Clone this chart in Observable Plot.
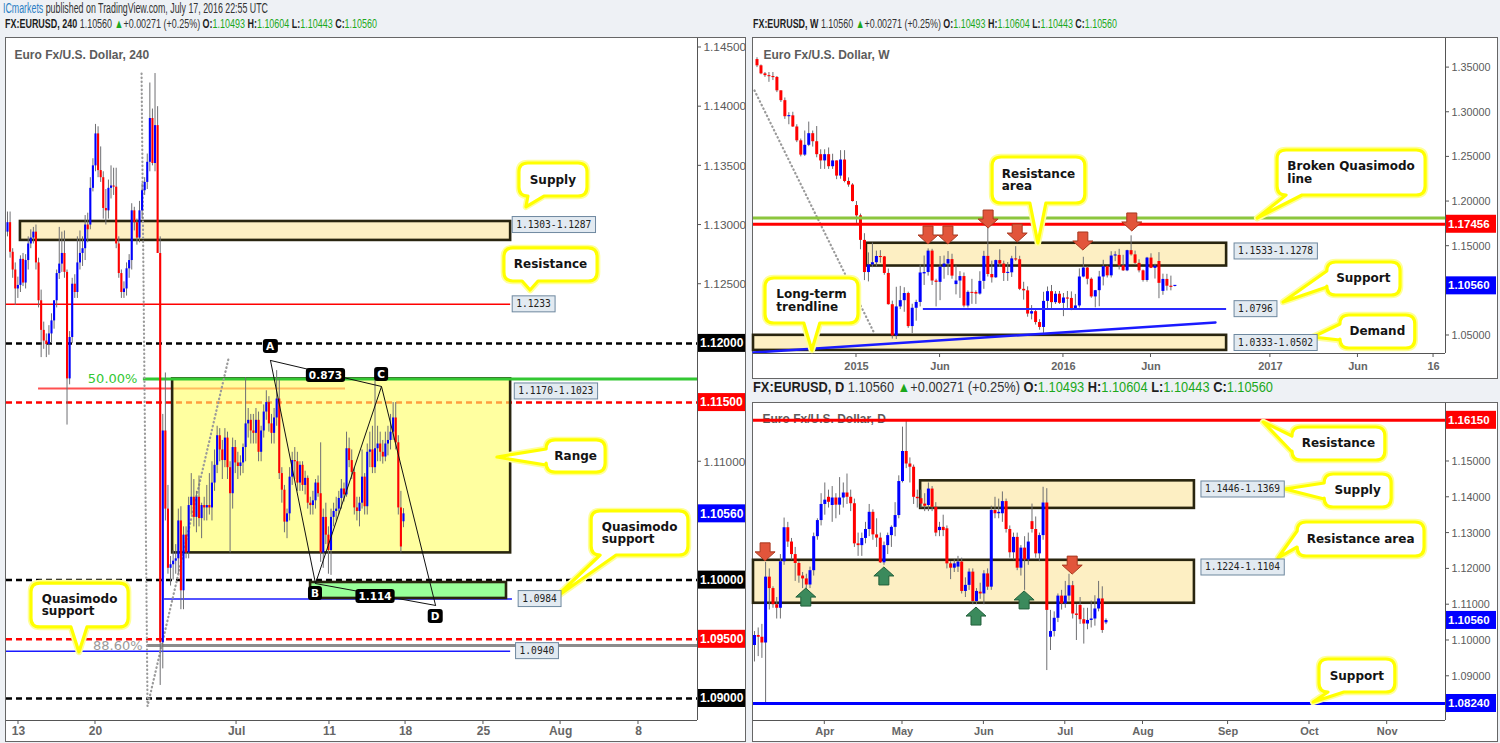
<!DOCTYPE html>
<html>
<head>
<meta charset="utf-8">
<script src="https://cdn.jsdelivr.net/npm/d3@7"></script>
<script src="https://cdn.jsdelivr.net/npm/@observablehq/plot@0.6"></script>
<style>
  html, body { margin:0; padding:0; width:1500px; height:743px; overflow:hidden; background:#eef1f5; }
  .hdr { position:absolute; white-space:nowrap; transform-origin:0 50%; line-height:1.2;
         font-family:"Liberation Sans Narrow","Liberation Sans",Arial,sans-serif; color:#333; }
  .hdr b { color:#1e1e1e; }
  .g { color:#1ca81c; }
  .panel { position:absolute; background:#fff; border:1px solid #666; box-sizing:border-box; }
  .panel svg { position:absolute; left:0; top:0; overflow:visible; }
</style>
</head>
<body>
<div id="pub" class="hdr"></div>
<div id="hdrH4" class="hdr"></div>
<div id="hdrW" class="hdr"></div>
<div id="hdrD" class="hdr"></div>
<div id="pH4" class="panel" style="left:5px;top:37px;width:741px;height:705px"></div>
<div id="pW" class="panel" style="left:752px;top:37px;width:746px;height:342px"></div>
<div id="pD" class="panel" style="left:752px;top:402px;width:746px;height:340px"></div>
<script>
// ===================== DATA (prices x 10 000: open, high, low, close) =====================
// 4-hour bars, Jun 10 – Jul 18 2016
const h4Bars = [
[11294,11311,11290,11302],[11302,11311,11272,11277],[11277,11280,11255,11262],[11262,11268,11232,11246],
[11246,11256,11238,11249],[11249,11274,11243,11271],[11271,11276,11248,11251],[11251,11275,11246,11270],
[11270,11290,11262,11284],[11284,11296,11280,11289],[11289,11298,11284,11294],[11294,11300,11262,11268],
[11268,11272,11230,11236],[11236,11245,11188,11211],[11211,11218,11195,11202],[11202,11208,11188,11199],
[11199,11215,11190,11208],[11208,11225,11200,11219],[11219,11236,11212,11236],[11236,11262,11230,11259],
[11259,11298,11254,11267],[11267,11294,11260,11276],[11276,11295,11255,11260],[11260,11262,11131,11170],
[11170,11210,11165,11205],[11205,11255,11200,11250],[11250,11258,11238,11243],[11243,11290,11238,11268],
[11268,11295,11262,11276],[11276,11290,11265,11280],[11280,11308,11270,11300],[11300,11310,11285,11296],
[11300,11340,11296,11331],[11331,11356,11328,11350],[11350,11385,11345,11377],[11377,11383,11340,11346],
[11346,11366,11336,11340],[11340,11345,11305,11314],[11314,11330,11300,11312],[11312,11338,11305,11331],
[11331,11350,11322,11333],[11333,11348,11325,11332],[11332,11348,11280,11284],[11284,11290,11255,11259],
[11259,11262,11238,11243],[11243,11252,11238,11246],[11246,11268,11240,11263],[11263,11275,11255,11270],
[11270,11318,11262,11312],[11312,11315,11295,11302],[11302,11305,11283,11289],[11289,11320,11285,11312],
[11312,11335,11305,11329],[11329,11340,11325,11336],[11336,11360,11330,11353],[11353,11420,11345,11390],
[11390,11398,11350,11352],[11352,11428,11345,11384],[11384,11400,11276,11276],[11276,11290,10911,10947],
[10947,11140,10925,11126],[11126,11175,11050,11060],[11060,11080,11005,11010],[11010,11020,10995,11013],
[11013,11025,11000,11016],[11016,11030,11005,11018],[11018,11060,11005,11050],[11050,11062,10975,10991],
[10991,11045,10975,11038],[11038,11045,11018,11023],[11023,11070,11018,11063],[11063,11090,11055,11070],
[11070,11085,11045,11053],[11053,11075,11040,11070],[11070,11088,11045,11052],[11052,11065,11035,11063],
[11063,11070,11050,11061],[11061,11080,11050,11063],[11063,11090,11055,11061],[11061,11100,11050,11082],
[11082,11110,11075,11097],[11097,11130,11090,11122],[11122,11128,11100,11110],[11110,11118,11085,11101],
[11101,11128,11095,11120],[11120,11125,11085,11095],[11095,11100,11023,11073],[11073,11120,11060,11112],
[11112,11118,11090,11099],[11099,11108,11085,11096],[11096,11105,11088,11099],[11099,11115,11090,11112],
[11112,11171,11100,11132],[11132,11145,11120,11135],[11135,11140,11115,11126],[11126,11140,11115,11124],
[11124,11145,11115,11135],[11135,11142,11100,11108],[11108,11130,11100,11126],[11126,11148,11120,11142],
[11142,11160,11135,11150],[11150,11155,11125,11132],[11132,11140,11115,11124],[11124,11145,11115,11137],
[11137,11177,11130,11153],[11153,11170,11085,11090],[11090,11095,11065,11076],[11076,11080,11040,11049],
[11049,11060,11035,11056],[11056,11095,11050,11087],[11087,11108,11080,11101],[11101,11112,11085,11100],
[11100,11108,11075,11082],[11082,11100,11075,11097],[11097,11100,11075,11080],[11080,11092,11072,11086],
[11086,11088,11060,11065],[11065,11070,11055,11063],[11063,11075,11055,11067],[11067,11085,11060,11082],
[11082,11088,11070,11073],[11073,11116,11015,11023],[11023,11060,11010,11053],[11053,11065,11030,11038],
[11038,11045,11005,11025],[11025,11060,11004,11053],[11053,11065,11045,11058],[11058,11070,11050,11060],
[11060,11075,11055,11069],[11069,11085,11060,11077],[11077,11082,11066,11072],[11072,11125,11070,11111],
[11111,11120,11095,11101],[11101,11110,11085,11091],[11091,11095,11055,11061],[11061,11070,11050,11058],
[11058,11070,11045,11065],[11065,11110,11060,11087],[11087,11090,11055,11062],[11062,11115,11055,11108],
[11108,11125,11095,11110],[11110,11130,11090,11095],[11095,11170,11090,11111],[11111,11130,11100,11115],
[11115,11125,11100,11108],[11108,11118,11098,11104],[11104,11125,11100,11115],[11115,11130,11105,11118],
[11118,11140,11110,11125],[11125,11150,11118,11137],[11137,11150,11110,11116],[11116,11122,11055,11061],
[11061,11075,11023,11028],[11049.3,11060.4,11044.3,11056]
];
// weekly bars, Jul 14 2014 – Jul 18 2016
const wBars = [
[13590,13610,13500,13520],[13520,13530,13420,13430],[13430,13445,13390,13410],[13410,13445,13335,13400],
[13400,13445,13355,13390],[13390,13400,13220,13240],[13240,13240,13110,13130],[13130,13160,12920,12950],
[12950,12995,12860,12960],[12960,13000,12830,12835],[12835,12860,12660,12680],[12680,12700,12500,12520],
[12520,12790,12505,12630],[12630,12890,12615,12760],[12760,12790,12610,12670],[12670,12840,12490,12525],
[12525,12580,12360,12455],[12455,12580,12360,12525],[12525,12600,12360,12390],[12390,12530,12360,12455],
[12455,12455,12245,12285],[12285,12570,12250,12465],[12465,12570,12210,12225],[12225,12265,12160,12185],
[12185,12200,11995,12000],[11955,12000,11755,11840],[11840,11860,11460,11565],[11565,11640,11115,11205],
[11205,11425,11100,11290],[11290,11535,11260,11315],[11315,11445,11270,11385],[11385,11450,11310,11380],
[11380,11385,11175,11195],[11195,11245,10840,10845],[10845,10885,10460,10495],[10495,11040,10455,10820],
[10820,11050,10790,10890],[10890,11035,10760,10970],[10970,10985,10580,10600],[10600,10850,10520,10805],
[10805,10895,10660,10870],[10870,11290,10820,11200],[11190,11390,11060,11205],[11205,11470,11165,11445],
[11445,11465,11060,11110],[11110,11130,10820,11095],[11095,11385,10890,11265],[11265,11390,11130,11300],
[11300,11440,11170,11350],[11350,11410,11130,11165],[11070,11280,10955,11110],[11110,11215,10915,11160],
[11160,11200,10810,10830],[10830,11000,10808,10983],[10983,11129,10849,10981],[10981,11000,10848,10964],
[10964,11214,10952,11106],[11106,11443,11017,11386],[11386,11714,11155,11183],[11183,11333,11087,11146],
[11146,11345,11140,11339],[11339,11460,11262,11300],[11300,11333,11105,11195],[11195,11317,11106,11202],
[11202,11387,11150,11358],[11358,11495,11330,11348],[11348,11387,11003,11017],[11017,11096,10896,11000],
[11000,11045,10705,10740],[10740,10835,10675,10767],[10767,10780,10617,10645],[10645,10677,10559,10590],
[10590,10984,10524,10882],[10882,11043,10796,10991],[10991,11060,10803,10868],[10868,10992,10848,10962],
[10962,10993,10848,10860],[10860,10970,10711,10920],[10920,10993,10804,10915],[10915,10988,10778,10795],
[10795,10960,10780,10831],[10831,11246,10808,11155],[11155,11376,11146,11256],[11256,11270,11067,11130],
[11130,11145,10917,10932],[10932,11005,10810,11002],[11002,11218,10822,11155],[11155,11342,11055,11270],
[11270,11277,11144,11168],[11168,11438,11144,11390],[11390,11438,11327,11397],[11397,11465,11234,11280],
[11280,11398,11217,11224],[11224,11455,11215,11450],[11450,11616,11389,11403],[11403,11445,11285,11308],
[11308,11348,11201,11224],[11224,11233,11098,11116],[11116,11375,11097,11367],[11367,11415,11249,11252],
[11252,11298,11132,11276],[11329,11428,10912,11084],[10994,11187,10950,11128],[11128,11185,10998,11052],
[11052,11165,11000,11039],[11049.3,11060.4,11044.3,11056]
];
// daily bars, Mar 7 – Jul 18 2016
const dBars = [
[10986,11025,10940,11014],[11014,11035,10955,11009],[11009,11045,10950,10993],[10993,11218,10822,11177],
[11177,11200,11085,11145],[11145,11150,11090,11100],[11100,11120,11060,11090],[11090,11240,11060,11220],
[11220,11342,11210,11315],[11315,11330,11260,11275],[11275,11285,11225,11240],[11240,11260,11165,11215],
[11215,11220,11160,11180],[11180,11190,11145,11172],[11172,11185,11140,11155],[11155,11205,11145,11195],
[11195,11300,11180,11290],[11290,11340,11280,11335],[11335,11410,11320,11380],[11380,11440,11350,11392],
[11400,11420,11370,11386],[11377,11430,11330,11398],[11398,11410,11340,11378],[11378,11455,11350,11398],
[11398,11440,11370,11412],[11412,11465,11380,11400],[11400,11420,11360,11382],[11382,11395,11260,11270],
[11270,11300,11235,11265],[11265,11300,11235,11285],[11285,11330,11270,11310],[11310,11380,11290,11358],
[11358,11365,11280,11295],[11295,11340,11260,11286],[11286,11300,11215,11217],[11217,11275,11210,11265],
[11265,11300,11240,11293],[11293,11320,11260,11316],[11316,11385,11290,11349],[11349,11460,11340,11444],
[11444,11596,11440,11528],[11528,11616,11480,11493],[11493,11510,11440,11484],[11484,11490,11380,11400],
[11400,11420,11370,11396],[11396,11420,11370,11381],[11381,11410,11360,11375],[11377,11440,11360,11423],
[11423,11430,11360,11372],[11372,11385,11290,11300],[11307,11330,11290,11316],[11316,11350,11290,11307],
[11312,11320,11200,11214],[11214,11220,11170,11202],[11202,11225,11190,11214],[11205,11235,11190,11219],
[11219,11230,11130,11137],[11137,11175,11120,11154],[11154,11200,11140,11191],[11191,11200,11100,11109],
[11109,11145,11100,11137],[11135,11160,11115,11130],[11130,11195,11100,11186],[11186,11200,11140,11149],
[11149,11375,11140,11363],[11363,11400,11340,11354],[11354,11395,11340,11358],[11354,11415,11330,11388],
[11388,11395,11300,11310],[11310,11320,11230,11245],[11245,11300,11225,11288],[11288,11300,11195,11202],
[11202,11265,11180,11258],[11258,11290,11140,11225],[11225,11300,11210,11275],[11332,11381,11300,11310],
[11310,11345,11230,11242],[11242,11300,11220,11293],[11293,11428,11280,11384],[11384,11424,10916,11084],
[11009,11084,10972,11025],[11025,11080,11010,11062],[11062,11130,11050,11124],[11124,11140,11085,11102],
[11102,11165,11090,11124],[11124,11185,11110,11153],[11153,11165,11060,11074],[11074,11100,11000,11070],
[11098,11120,11045,11058],[11058,11090,10990,11046],[11046,11090,11030,11056],[11056,11110,11035,11060],
[11060,11125,11040,11088],[11088,11165,11080,11116],[11116,11150,11020,11028],[11049.3,11060.4,11044.3,11056]
];

const quote = ["1.10560", "+0.00271 (+0.25%)", "1.10493", "1.10604", "1.10443", "1.10560"];

// axis ticks (x in bar index)
const h4XTicks = [4.25, 34.0, 88.5, 124.4, 153.8, 183.9, 213.7, 243.8];
const h4XLabels = ["13", "20", "Jul", "11", "18", "25", "Aug", "8"];
const h4YTicks = [1.145, 1.14, 1.135, 1.13, 1.125, 1.12, 1.115, 1.11, 1.105, 1.10, 1.095, 1.09];
const wXTicks = [25, 46, 77, 99, 129, 151, 170];
const wXLabels = ["2015", "Jun", "2016", "Jun", "2017", "Jun", "16"];
const wYTicks = [1.35, 1.30, 1.25, 1.20, 1.15, 1.10, 1.05];
const dXTicks = [19, 40, 62, 84, 105, 128, 150, 171];
const dXLabels = ["Apr", "May", "Jun", "Jul", "Aug", "Sep", "Oct", "Nov"];
const dYTicks = [1.16, 1.15, 1.14, 1.13, 1.12, 1.11, 1.10, 1.09, 1.08];

// ---- 4H drawings (price levels, zones, pattern) ----
const h4Rules = [
  {p: 1.1200, c: "#000000", w: 2.5, d: "6,4"},
  {p: 1.1150, c: "#ff0000", w: 2.5, d: "6,4"},
  {p: 1.1000, c: "#000000", w: 2.5, d: "6,4"},
  {p: 1.0950, c: "#ff0000", w: 2.5, d: "6,4"},
  {p: 1.0900, c: "#000000", w: 2.5, d: "6,4"},
  {p: 1.1233, b: 194.4, c: "#ff0000", w: 1.5},
  {p: 1.11619, a: 12.0, b: 130.6, c: "#ff5050", w: 2},
  {p: 1.0940, b: 194.4, c: "#1a1aff", w: 1.5},
  {p: 1.0984, a: 60.7, b: 195.1, c: "#1a1aff", w: 1.5},
  {p: 1.09448, a: 54.1, c: "#8c8c8c", w: 3}
];
const h4Zones = [
  {a: 5.0, b: 194.4, lo: 1.1287, hi: 1.1303, fill: "#fdefc3", op: 1},
  {a: 63.8, b: 194.4, lo: 1.1023, hi: 1.1170, fill: "#ffff66", op: 0.62},
  {a: 117.1, b: 192.8, lo: 1.09845, hi: 1.0998, fill: "#99ff99", op: 1}
];
const h4Fib50 = {p: 1.1170, a: 52.5};
const h4FibText = [{t: "50.00%", i: 50.2, p: 1.1170, c: "#33c833"}, {t: "88.60%", i: 52.2, p: 1.09448, c: "#9a9a9a"}];
const h4Dotted = [{i: 51.8, p: 1.1428}, {i: 54.1, p: 1.08935}, {i: 85.4, p: 1.11872}];
const h4Pattern = [
  {k: "A", i: 101.6, p: 1.11856, dy: -14}, {k: "B", i: 119.0, p: 1.09971, dy: 10},
  {k: "C", i: 144.5, p: 1.11636, dy: -12}, {k: "D", i: 165.4, p: 1.09786, dy: 11}
];
const h4Ratios = [{t: "0.873", from: 0, to: 2}, {t: "1.114", from: 1, to: 3}];
const h4Tags = [
  {t: "1.1303-1.1287", i: 195.2, p: 1.1300}, {t: "1.1233", i: 195.2, p: 1.1233},
  {t: "1.1170-1.1023", i: 196.0, p: 1.11594}, {t: "1.0984", i: 197.5, p: 1.0984},
  {t: "1.0940", i: 196.5, p: 1.0940}
];
const h4Callouts = [
  {lines: ["Supply"], box: [197.8, 1.13520, 224.1, 1.13241], tip: [200.5, 1.13150]},
  {lines: ["Resistance"], box: [192.0, 1.12802, 228.0, 1.12523], tip: [202.1, 1.12447]},
  {lines: ["Range"], box: [208.3, 1.11180, 231.1, 1.10909], tip: [189.3, 1.11036]},
  {lines: ["Quasimodo", "support"], box: [225.7, 1.10580, 263.1, 1.10208], tip: [211.7, 1.09845]},
  {lines: ["Quasimodo", "support"], box: [9.27, 1.09971, 46.8, 1.09600], tip: [27.8, 1.09389]}
];
const h4AxisTags = [
  {p: 1.12, bg: "#000"}, {p: 1.115, bg: "#ff0000"}, {p: 1.1056, bg: "#0000ff"},
  {p: 1.10, bg: "#000"}, {p: 1.095, bg: "#ff0000"}, {p: 1.09, bg: "#000"}
];

// ---- Weekly drawings ----
const wRules = [
  {p: 1.1815, c: "#8cc63e", w: 3},
  {p: 1.17456, c: "#ff0000", w: 3},
  {p: 1.0796, a: 41.8, b: 118.0, c: "#2a2aff", w: 2}
];
const wZones = [
  {a: 27.5, b: 118.0, lo: 1.1278, hi: 1.1533, fill: "#fdefc3", op: 1},
  {b: 118.0, lo: 1.0333, hi: 1.0502, fill: "#fdefc3", op: 1}
];
const wTrend = [{i: -0.879, p: 1.03096}, {i: 115.2, p: 1.06456}];
const wDotted = [{i: -0.63, p: 1.32436}, {i: 29.5, p: 1.05224}];
const wArrows = [
  {i: 43.1, p: 1.1519}, {i: 48.1, p: 1.1519}, {i: 58.2, p: 1.1698},
  {i: 65.5, p: 1.1541}, {i: 82.0, p: 1.1452}, {i: 94.3, p: 1.1665}
];
const wTags = [
  {t: "1.1533-1.1278", i: 120.0, p: 1.1441}, {t: "1.0796", i: 120.0, p: 1.0795},
  {t: "1.0333-1.0502", i: 120.0, p: 1.0416}
];
const wCallouts = [
  {lines: ["Resistance", "area"], box: [59.2, 1.24933, 82.5, 1.19782], tip: [70.7, 1.15302]},
  {lines: ["Broken Quasimodo", "line"], box: [130.8, 1.25717, 168.0, 1.20678], tip: [125.8, 1.18102]},
  {lines: ["Long-term", "trendline"], box: [2.14, 1.11383, 25.5, 1.06344], tip: [13.9, 1.03320]},
  {lines: ["Support"], box: [143.3, 1.13175, 161.7, 1.09479], tip: [132.3, 1.08695]},
  {lines: ["Demand"], box: [146.6, 1.07240, 165.4, 1.03544], tip: [139.8, 1.04776]}
];
const wAxisTags = [{p: 1.17456, bg: "#ff0000"}, {p: 1.1056, bg: "#0000ff"}];

// ---- Daily drawings ----
const dRules = [
  {p: 1.1615, c: "#ff0000", w: 3},
  {p: 1.0824, c: "#0000ff", w: 3}
];
const dZones = [
  {a: 44.9, b: 118.9, lo: 1.1369, hi: 1.1446, fill: "#fdefc3", op: 1},
  {b: 118.9, lo: 1.1104, hi: 1.1224, fill: "#fdefc3", op: 1}
];
const dDownArrows = [{i: 3.0, p: 1.1221}, {i: 86.0, p: 1.1184}];
const dUpArrows = [{i: 14.0, p: 1.1145}, {i: 35.1, p: 1.1204}, {i: 60.0, p: 1.1092}, {i: 73.0, p: 1.1137}];
const dTags = [{t: "1.1446-1.1369", i: 120.8, p: 1.14218}, {t: "1.1224-1.1104", i: 120.8, p: 1.12039}];
const dCallouts = [
  {lines: ["Resistance"], box: [145.4, 1.15950, 170.5, 1.15028], tip: [137.6, 1.16089]},
  {lines: ["Supply"], box: [154.1, 1.14637, 172.2, 1.13715], tip: [143.5, 1.14218]},
  {lines: ["Resistance area"], box: [146.8, 1.13296, 181.1, 1.12346], tip: [141.6, 1.12291]},
  {lines: ["Support"], box: [152.7, 1.09469, 173.2, 1.08547], tip: [151.1, 1.08268]}
];
const dAxisTags = [{p: 1.1615, bg: "#ff0000"}, {p: 1.1056, bg: "#0000ff"}, {p: 1.0824, bg: "#0000ff"}];

// ===================== HELPERS =====================
const toCandles = bars => bars.map((b, i) => ({i, o: b[0] / 1e4, h: b[1] / 1e4, l: b[2] / 1e4, c: b[3] / 1e4}));

function candleMarks(data, bw, eps) {
  const up = data.filter(d => d.c >= d.o), dn = data.filter(d => d.c < d.o);
  const y2 = d => Math.abs(d.c - d.o) < eps ? d.o + (d.c >= d.o ? eps : -eps) : d.c;
  return [
    Plot.ruleX(data, {x: "i", y1: "l", y2: "h", stroke: "#6f6f72", strokeWidth: 1}),
    Plot.ruleX(up, {x: "i", y1: "o", y2, stroke: "#0000ff", strokeWidth: bw}),
    Plot.ruleX(dn, {x: "i", y1: "o", y2, stroke: "#ff0000", strokeWidth: bw})
  ];
}
function ruleMarks(rules, xd) {
  return rules.map(r => Plot.ruleY([r], {
    y: "p", x1: d => d.a ?? xd[0], x2: d => d.b ?? xd[1],
    stroke: r.c, strokeWidth: r.w, strokeDasharray: r.d || null
  }));
}
function zoneMarks(zones, xd) {
  return zones.map(z => Plot.rect([z], {
    x1: d => d.a ?? xd[0], x2: d => d.b ?? xd[1], y1: "lo", y2: "hi",
    fill: z.fill, fillOpacity: z.op, stroke: "#29250f", strokeWidth: 2.6
  }));
}
// grey tick labels, skipping those hidden behind a coloured price tag
function axisTextMarks(cfg, tags, pxPerUnit) {
  const [x0, x1] = cfg.xDomain, [y0] = cfg.yDomain;
  const visible = cfg.yTicks.filter(v => tags.every(t => Math.abs(t.p - v) * pxPerUnit > 15));
  return [
    Plot.ruleX([x1], {stroke: "#555", strokeWidth: 1}),
    Plot.ruleY([y0], {stroke: "#555", strokeWidth: 1}),
    Plot.text(visible, {x: () => x1, y: d => d, text: d => d.toFixed(5), dx: 6, textAnchor: "start",
      fill: "#5a5a5a", fontSize: cfg.yFont}),
    Plot.text(cfg.xTicks, {x: d => d, y: () => y0, text: (d, i) => cfg.xLabels[i], dy: cfg.xDy,
      fill: "#666", fontSize: cfg.xFont, fontWeight: "bold"})
  ];
}
function titleMark(t, dx, dy) {
  return Plot.text([t], {frameAnchor: "top-left", text: d => d, dx, dy, textAnchor: "start", lineAnchor: "middle",
    fill: "#5c5c5c", fontSize: 12, fontWeight: "bold"});
}
function scaleFn(s) {
  return s.apply ? (v => s.apply(v)) : d3.scaleLinear(s.domain, s.range);
}

function makePlot(cfg, marks) {
  const host = document.getElementById(cfg.id);
  const W = host.clientWidth, H = host.clientHeight;
  const plot = Plot.plot({
    width: W, height: H,
    marginLeft: 0, marginTop: 0, marginRight: cfg.mR, marginBottom: cfg.mB,
    x: {type: "linear", domain: cfg.xDomain, axis: null},
    y: {type: "linear", domain: cfg.yDomain, axis: null},
    style: {background: "transparent", fontFamily: "'Liberation Sans', Arial, sans-serif", overflow: "visible"},
    marks
  });
  host.appendChild(plot);
  const sx = scaleFn(plot.scale("x")), sy = scaleFn(plot.scale("y"));
  const g = d3.select(plot).append("g").attr("text-anchor", "start");
  const xR = sx(cfg.xDomain[1]), yB = sy(cfg.yDomain[0]);
  cfg.yTicks.forEach(v => g.append("line").attr("x1", xR).attr("x2", xR + 4).attr("y1", sy(v)).attr("y2", sy(v)).attr("stroke", "#555"));
  cfg.xTicks.forEach(v => g.append("line").attr("x1", sx(v)).attr("x2", sx(v)).attr("y1", yB).attr("y2", yB + 4).attr("stroke", "#555"));
  return {plot, sx, sy, g, xR};
}

function drawCallout(g, sx, sy, c) {
  const X1 = sx(c.box[0]), X2 = sx(c.box[2]), Y1 = sy(c.box[1]), Y2 = sy(c.box[3]);
  const TX = sx(c.tip[0]), TY = sy(c.tip[1]);
  const r = 9, w = 8;
  const ox = TX < X1 ? X1 - TX : TX > X2 ? TX - X2 : 0;
  const oy = TY < Y1 ? Y1 - TY : TY > Y2 ? TY - Y2 : 0;
  const side = ox > oy ? (TX < X1 ? "left" : "right") : (TY < Y1 ? "top" : "bottom");
  const cl = (v, a, b) => Math.max(a, Math.min(b, v));
  const bx = cl(TX, X1 + r + w, X2 - r - w), by = cl(TY, Y1 + r + w, Y2 - r - w);
  let p = `M${X1 + r},${Y1}`;
  if (side === "top") p += `L${bx - w},${Y1}L${TX},${TY}L${bx + w},${Y1}`;
  p += `L${X2 - r},${Y1}Q${X2},${Y1} ${X2},${Y1 + r}`;
  if (side === "right") p += `L${X2},${by - w}L${TX},${TY}L${X2},${by + w}`;
  p += `L${X2},${Y2 - r}Q${X2},${Y2} ${X2 - r},${Y2}`;
  if (side === "bottom") p += `L${bx + w},${Y2}L${TX},${TY}L${bx - w},${Y2}`;
  p += `L${X1 + r},${Y2}Q${X1},${Y2} ${X1},${Y2 - r}`;
  if (side === "left") p += `L${X1},${by + w}L${TX},${TY}L${X1},${by - w}`;
  p += `L${X1},${Y1 + r}Q${X1},${Y1} ${X1 + r},${Y1}Z`;
  g.append("path").attr("d", p).attr("fill", "none").attr("stroke", "#ffff9a").attr("stroke-width", 6.5).attr("stroke-linejoin", "round");
  g.append("path").attr("d", p).attr("fill", "#fff").attr("stroke", "#ffff00").attr("stroke-width", 3.2).attr("stroke-linejoin", "round");
  const t = g.append("text").attr("text-anchor", "start").attr("font-family", "'DejaVu Sans', Verdana, sans-serif").attr("font-weight", "bold")
    .attr("font-size", 12).attr("fill", "#141414");
  c.lines.forEach((ln, i) => t.append("tspan").attr("x", 0).attr("dy", i === 0 ? 0 : 12.5).text(ln));
  const bb = t.node().getBBox();
  t.attr("transform", `translate(${(X1 + X2) / 2 - bb.width / 2 - bb.x},${(Y1 + Y2) / 2 - bb.height / 2 - bb.y})`);
}
function drawTag(g, sx, sy, tg) {
  const x = sx(tg.i), y = sy(tg.p);
  const rect = g.append("rect");
  const t = g.append("text").attr("x", x + 4).attr("y", y).attr("dy", "0.36em").attr("text-anchor", "start")
    .attr("font-family", "'DejaVu Sans Mono', monospace").attr("font-size", 9.6).attr("fill", "#222").text(tg.t);
  const bb = t.node().getBBox();
  rect.attr("x", x).attr("y", y - 8).attr("width", bb.width + 8).attr("height", 16)
    .attr("fill", "#e2eaf1").attr("stroke", "#6e889f").attr("stroke-width", 1);
}
function drawAxisTag(g, xR, sy, tg, w, fs) {
  const y = sy(tg.p);
  g.append("rect").attr("x", xR + 1).attr("y", y - 9).attr("width", w).attr("height", 18).attr("fill", tg.bg);
  g.append("text").attr("x", xR + 3).attr("y", y).attr("dy", "0.36em").attr("text-anchor", "start").attr("fill", "#fff")
    .attr("font-family", "'Liberation Sans', Arial, sans-serif").attr("font-weight", "bold").attr("font-size", fs)
    .text(tg.p.toFixed(5));
}
function darkLabel(g, x, y, text, fs) {
  const rect = g.append("rect");
  const t = g.append("text").attr("x", x).attr("y", y).attr("dy", "0.36em").attr("text-anchor", "middle")
    .attr("fill", "#fff").attr("font-weight", "bold").attr("font-size", fs)
    .attr("font-family", "'DejaVu Sans', Verdana, sans-serif").text(text);
  const bb = t.node().getBBox();
  rect.attr("x", bb.x - 3).attr("y", y - 7).attr("width", bb.width + 6).attr("height", 14).attr("rx", 3).attr("fill", "#000");
}
function arrow(g, x, y, dir, fill, stroke) {
  const s = dir; // 1: pointing down (tip at y), -1: pointing up
  const p = `M${x - 5},${y - 18 * s}h10v${9 * s}h5L${x},${y}L${x - 10},${y - 9 * s}h5Z`;
  g.append("path").attr("d", p).attr("fill", fill).attr("stroke", stroke).attr("stroke-width", 1).attr("stroke-linejoin", "round");
}

// ===================== HEADERS =====================
function setHeader(id, html, left, cy, targetW, fs) {
  const el = document.getElementById(id);
  el.innerHTML = html;
  el.style.fontSize = fs + "px";
  el.style.left = left + "px";
  const r = el.getBoundingClientRect();
  el.style.top = (cy - r.height / 2) + "px";
  el.style.transform = `scaleX(${targetW / r.width})`;
}
const hdr = tf => `<b>FX:EURUSD, ${tf}</b> ${quote[0]} <span class="g">&#9650;</span>${quote[1]} <b>O:</b><span class="g">${quote[2]}</span> <b>H:</b><span class="g">${quote[3]}</span> <b>L:</b><span class="g">${quote[4]}</span> <b>C:</b><span class="g">${quote[5]}</span>`;
setHeader("pub", `<span style="color:#2a7ec4">ICmarkets</span> published on TradingView.com, July 17, 2016 22:55 UTC`, 3, 8, 265, 14);
setHeader("hdrH4", hdr("240"), 5, 24, 372, 13);
setHeader("hdrW", hdr("W"), 753, 24, 364, 13);
setHeader("hdrD", hdr("D"), 753, 387, 520, 14);

// ===================== 4H PANEL =====================
{
  const cfg = {id: "pH4", mR: 48, mB: 21, xDomain: [-0.386, 266.6], yDomain: [1.08814, 1.14576],
    yTicks: h4YTicks, xTicks: h4XTicks, xLabels: h4XLabels, yFont: 11.8, xFont: 12, xDy: 11};
  const data = toCandles(h4Bars);
  const xd = cfg.xDomain;
  const ppu = 682 / (cfg.yDomain[1] - cfg.yDomain[0]);
  const marks = [
    titleMark("Euro Fx/U.S. Dollar, 240", 8, 17),
    ...ruleMarks(h4Rules, xd),
    ...zoneMarks(h4Zones, xd),
    Plot.ruleY([h4Fib50], {y: "p", x1: "a", x2: () => xd[1], stroke: "#33c833", strokeWidth: 3}),
    Plot.line(h4Dotted, {x: "i", y: "p", stroke: "#9a9a9a", strokeWidth: 2.2, strokeDasharray: "0.5,3.5", strokeLinecap: "round"}),
    ...candleMarks(data, 2.1, 0.00009),
    Plot.line(h4Pattern, {x: "i", y: "p", stroke: "#111", strokeWidth: 1}),
    Plot.link(h4Ratios, {x1: d => h4Pattern[d.from].i, y1: d => h4Pattern[d.from].p,
      x2: d => h4Pattern[d.to].i, y2: d => h4Pattern[d.to].p, stroke: "#111", strokeWidth: 1}),
    ...h4FibText.map(f => Plot.text([f], {x: "i", y: "p", text: "t", fill: f.c, textAnchor: "end", fontSize: 13,
      fontFamily: "'DejaVu Sans', Verdana, sans-serif"})),
    ...axisTextMarks(cfg, h4AxisTags, ppu)
  ];
  const {sx, sy, g, xR} = makePlot(cfg, marks);
  h4Ratios.forEach(r => {
    const a = h4Pattern[r.from], b = h4Pattern[r.to];
    darkLabel(g, (sx(a.i) + sx(b.i)) / 2, (sy(a.p) + sy(b.p)) / 2 + 2, r.t, 10.5);
  });
  h4Pattern.forEach(pt => darkLabel(g, sx(pt.i), sy(pt.p) + pt.dy, pt.k, 10.5));
  h4Callouts.forEach(c => drawCallout(g, sx, sy, c));
  h4Tags.forEach(t => drawTag(g, sx, sy, t));
  h4AxisTags.forEach(t => drawAxisTag(g, xR, sy, t, 47, 12));
}

// ===================== WEEKLY PANEL =====================
{
  const cfg = {id: "pW", mR: 52, mB: 25, xDomain: [-0.879, 173.0], yDomain: [1.02984, 1.38259],
    yTicks: wYTicks, xTicks: wXTicks, xLabels: wXLabels, yFont: 10.8, xFont: 11, xDy: 13};
  const data = toCandles(wBars);
  const xd = cfg.xDomain;
  const ppu = 315 / (cfg.yDomain[1] - cfg.yDomain[0]);
  const marks = [
    titleMark("Euro Fx/U.S. Dollar, W", 10, 17),
    ...zoneMarks(wZones, xd),
    Plot.line(wDotted, {x: "i", y: "p", stroke: "#9a9a9a", strokeWidth: 2.2, strokeDasharray: "0.5,3.5", strokeLinecap: "round"}),
    ...candleMarks(data, 3, 0.0012),
    ...ruleMarks(wRules, xd),
    Plot.line(wTrend, {x: "i", y: "p", stroke: "#1a1aff", strokeWidth: 2.5}),
    ...axisTextMarks(cfg, wAxisTags, ppu)
  ];
  const {sx, sy, g, xR} = makePlot(cfg, marks);
  wArrows.forEach(a => arrow(g, sx(a.i), sy(a.p), 1, "#e2553b", "#a8381f"));
  wCallouts.forEach(c => drawCallout(g, sx, sy, c));
  wTags.forEach(t => drawTag(g, sx, sy, t));
  wAxisTags.forEach(t => drawAxisTag(g, xR, sy, t, 50, 11.5));
}

// ===================== DAILY PANEL =====================
{
  const cfg = {id: "pD", mR: 52, mB: 21, xDomain: [-0.27, 186.76], yDomain: [1.07765, 1.16620],
    yTicks: dYTicks, xTicks: dXTicks, xLabels: dXLabels, yFont: 10.8, xFont: 11, xDy: 11};
  const data = toCandles(dBars);
  const xd = cfg.xDomain;
  const ppu = 317 / (cfg.yDomain[1] - cfg.yDomain[0]);
  const marks = [
    titleMark("Euro Fx/U.S. Dollar, D", 9, 16),
    ...zoneMarks(dZones, xd),
    ...candleMarks(data, 3, 0.0003),
    ...ruleMarks(dRules, xd),
    ...axisTextMarks(cfg, dAxisTags, ppu)
  ];
  const {sx, sy, g, xR} = makePlot(cfg, marks);
  dDownArrows.forEach(a => arrow(g, sx(a.i), sy(a.p), 1, "#e2553b", "#a8381f"));
  dUpArrows.forEach(a => arrow(g, sx(a.i), sy(a.p), -1, "#3b8a5c", "#22603b"));
  dCallouts.forEach(c => drawCallout(g, sx, sy, c));
  dTags.forEach(t => drawTag(g, sx, sy, t));
  dAxisTags.forEach(t => drawAxisTag(g, xR, sy, t, 50, 11.5));
}
</script>
</body>
</html>
